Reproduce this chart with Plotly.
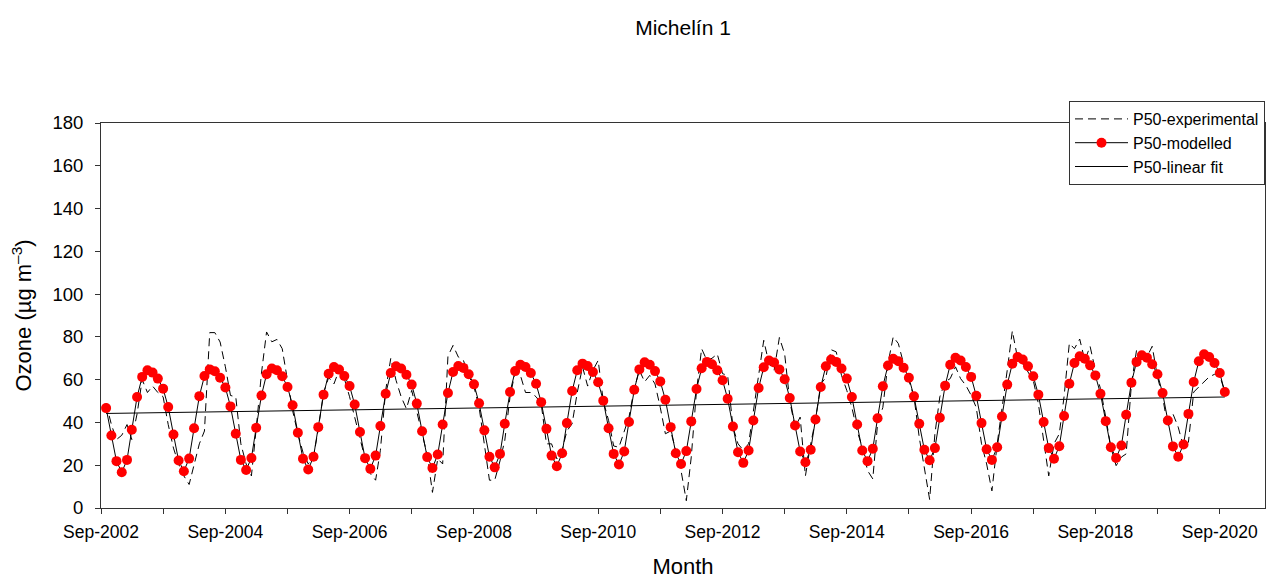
import pandas as pd
import plotly.graph_objects as go

# Monthly dates: Oct-2002 .. Oct-2020 (217 months)
months = pd.date_range("2002-10-01", periods=217, freq="MS")

modelled = [
    46.7, 33.9, 21.9, 16.7, 22.5, 36.6, 51.9, 61.3, 64.4, 63.3, 60.5, 55.8,
    47.2, 34.4, 22.2, 17.2, 23.1, 37.3, 52.3, 61.7, 64.8, 63.9, 60.9, 56.3,
    47.5, 34.7, 22.5, 17.8, 23.4, 37.5, 52.6, 62.5, 65.2, 64.4, 61.6, 56.6,
    48.0, 35.2, 23.0, 18.0, 24.0, 37.8, 53.0, 62.8, 65.9, 64.7, 61.7, 57.0,
    48.4, 35.5, 23.3, 18.3, 24.5, 38.3, 53.4, 63.1, 66.3, 65.2, 62.3, 57.7,
    48.8, 35.9, 23.8, 18.7, 25.0, 39.0, 53.8, 63.6, 66.4, 65.5, 62.5, 57.8,
    49.0, 36.3, 24.0, 19.0, 25.3, 39.4, 54.2, 64.0, 67.0, 65.9, 63.1, 58.1,
    49.5, 37.0, 24.5, 19.5, 25.6, 39.7, 54.7, 64.4, 67.5, 66.4, 63.6, 58.8,
    50.2, 37.3, 25.3, 20.3, 26.4, 40.2, 55.3, 64.8, 68.1, 67.0, 64.0, 59.2,
    50.6, 37.8, 25.6, 20.6, 26.6, 40.5, 55.6, 65.3, 68.3, 67.2, 64.4, 59.7,
    51.1, 38.1, 26.1, 21.1, 26.9, 40.9, 56.1, 65.8, 69.0, 68.0, 64.8, 60.2,
    51.4, 38.6, 26.4, 21.4, 27.2, 41.4, 56.6, 66.3, 69.4, 68.3, 65.2, 60.5,
    51.9, 39.0, 26.9, 21.9, 27.7, 42.0, 56.9, 66.6, 69.8, 68.6, 65.6, 60.9,
    52.2, 39.4, 27.2, 22.3, 28.0, 42.2, 57.2, 67.0, 70.2, 69.0, 65.9, 61.3,
    52.5, 39.7, 27.5, 22.5, 28.4, 42.8, 57.7, 67.5, 70.6, 69.4, 66.3, 61.6,
    53.0, 40.2, 28.0, 23.0, 28.9, 43.0, 58.1, 67.8, 70.9, 69.8, 66.7, 62.0,
    53.4, 40.6, 28.4, 23.4, 29.2, 43.6, 58.6, 68.3, 71.4, 70.3, 67.2, 62.5,
    53.8, 40.9, 28.8, 24.0, 29.7, 44.0, 58.9, 68.6, 71.9, 70.6, 67.8, 63.1,
    54.2,
]

experimental = [
    49.0, 39.0, 32.0, 34.0, 39.0, 32.0, 44.0, 60.0, 54.0, 57.0, 54.0, 52.0,
    39.0, 28.0, 20.6, 15.0, 11.0, 20.6, 30.0, 36.0, 82.0, 82.0, 77.6, 66.0,
    52.6, 52.0, 30.0, 20.6, 15.0, 37.0, 63.0, 82.3, 77.7, 78.8, 74.5, 59.7,
    45.6, 34.7, 26.0, 20.6, 23.8, 37.0, 54.0, 61.0, 58.0, 64.4, 60.5, 52.0,
    42.5, 31.6, 23.0, 16.0, 13.0, 27.0, 55.0, 70.0, 59.7, 52.0, 46.4, 55.0,
    45.6, 34.7, 25.0, 7.3, 23.0, 20.6, 71.0, 76.0, 70.6, 69.0, 62.0, 56.6,
    47.2, 30.0, 13.0, 13.0, 22.0, 31.6, 52.0, 63.6, 62.0, 54.0, 54.0, 52.0,
    48.8, 30.0, 30.0, 23.0, 27.0, 36.0, 39.4, 54.0, 66.0, 57.0, 64.4, 69.0,
    50.0, 41.0, 29.0, 28.4, 36.0, 42.5, 55.8, 64.4, 59.0, 62.0, 58.0, 47.0,
    34.7, 36.0, 27.0, 17.5, 3.4, 23.8, 55.0, 74.5, 69.0, 70.0, 72.0, 62.8,
    62.0, 37.8, 30.0, 27.0, 30.0, 45.6, 61.0, 78.4, 67.5, 64.4, 79.7, 72.0,
    50.0, 37.8, 42.5, 15.0, 30.0, 41.0, 58.0, 61.0, 74.0, 73.0, 62.0, 55.0,
    47.0, 36.0, 28.4, 17.5, 13.6, 39.4, 47.0, 67.5, 80.0, 76.9, 67.5, 59.7,
    52.0, 33.0, 19.0, 4.0, 34.7, 52.0, 59.0, 60.5, 66.0, 60.5, 57.3, 52.7,
    47.0, 30.0, 20.6, 8.0, 30.0, 45.6, 64.4, 82.8, 70.0, 67.5, 63.6, 59.7,
    48.8, 31.6, 15.0, 30.0, 34.7, 52.0, 77.0, 74.5, 79.0, 69.0, 75.6, 64.4,
    55.8, 42.5, 28.4, 19.8, 23.8, 25.3, 58.0, 73.8, 71.4, 70.6, 75.6, 61.3,
    52.0, 37.8, 44.0, 37.8, 28.4, 30.8, 54.2, 56.6, 59.0, 61.3, 62.5, 62.0,
    54.2,
]

# Linear fit: values at first and last month
fit_dates = [months[0], months[-1]]
fit_values = [44.2, 51.9]

tick_dates = pd.date_range("2002-09-01", "2020-09-01", freq="12MS")
tick_labels = ["Sep-2002", "", "Sep-2004", "", "Sep-2006", "", "Sep-2008", "",
               "Sep-2010", "", "Sep-2012", "", "Sep-2014", "", "Sep-2016", "",
               "Sep-2018", "", "Sep-2020"]

FONT = "Arial, Liberation Sans, sans-serif"
AX = "#333333"

fig = go.Figure()
fig.add_trace(go.Scatter(
    x=months, y=experimental, mode="lines", name="P50-experimental",
    line=dict(color="black", width=1, dash="8px,5px"), legendrank=1,
))
fig.add_trace(go.Scatter(
    x=fit_dates, y=fit_values, mode="lines", name="P50-linear fit",
    line=dict(color="black", width=1), legendrank=3,
))
fig.add_trace(go.Scatter(
    x=months, y=modelled, mode="lines+markers", name="P50-modelled",
    line=dict(color="black", width=1),
    marker=dict(color="#ff0000", size=10, line=dict(width=0)), legendrank=2,
))

fig.update_layout(
    width=1279, height=579,
    margin=dict(l=93, r=22, t=115, b=79, autoexpand=False),
    paper_bgcolor="white", plot_bgcolor="white",
    font=dict(family=FONT, color="black", size=18),
    title=dict(text="Michelín 1", x=0.5, xref="paper", xanchor="center",
               y=1 - 20 / 579, yref="container", yanchor="middle",
               font=dict(size=21, family=FONT, color="black")),
    showlegend=True,
    legend=dict(xref="container", x=1257 / 1279, xanchor="right",
                yref="container", y=1 - 93 / 579, yanchor="top",
                bgcolor="white", bordercolor=AX, borderwidth=1,
                font=dict(size=16, family=FONT, color="black"),
                itemwidth=53,
                traceorder="normal", tracegroupgap=0),
    xaxis=dict(
        type="date", automargin=False,
        range=["2002-09-01", "2021-05-25"],
        tickmode="array", tickvals=tick_dates, ticktext=tick_labels,
        ticks="outside", ticklen=5, tickcolor=AX, ticklabelstandoff=3,
        showline=True, linecolor=AX, linewidth=1, mirror=True,
        showgrid=False, zeroline=False,
        tickfont=dict(size=17.5, family=FONT),
        title=dict(text="Month", font=dict(size=22, family=FONT), standoff=17),
    ),
    yaxis=dict(
        range=[0, 180], dtick=20, tick0=0, automargin=False,
        ticks="outside", ticklen=5, tickcolor=AX, ticklabelstandoff=8,
        showline=True, linecolor=AX, linewidth=1, mirror=True,
        showgrid=False, zeroline=False,
        tickfont=dict(size=18.5, family=FONT),
        title=dict(text="Ozone (µg m<sup>–3</sup>)", font=dict(size=22, family=FONT),
                   standoff=16),
    ),
)

fig.write_html("out.html")
